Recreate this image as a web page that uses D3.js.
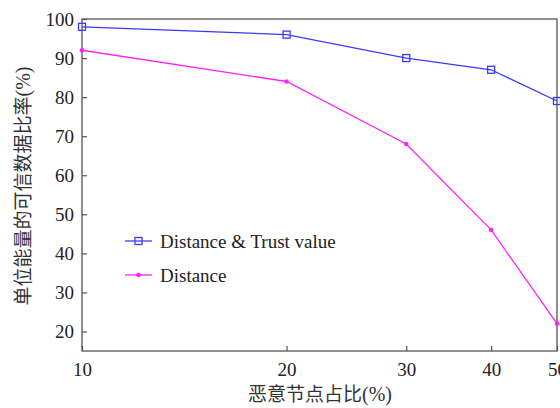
<!DOCTYPE html>
<html>
<head>
<meta charset="utf-8">
<script src="https://cdn.jsdelivr.net/npm/d3@7"></script>
<style>
  html, body { margin: 0; padding: 0; background: #fff; }
  svg { display: block; }
</style>
</head>
<body>
<svg id="chart" width="560" height="408"></svg>
<script>
// Malicious node ratio (%) on the x axis
const ratios = [10, 20, 30, 40, 50];
// Credible-data ratio per unit energy (%)
const trustValues = [98, 96, 90, 87, 79];
const distanceValues = [92, 84, 68, 46, 22];
const xTicks = [10, 20, 30, 40, 50];
const yTicks = [20, 30, 40, 50, 60, 70, 80, 90, 100];

const seriesList = [
  { name: "Distance & Trust value", values: trustValues, color: "#3a3aff", marker: "square" },
  { name: "Distance", values: distanceValues, color: "#ff22ff", marker: "dot" }
];

const svg = d3.select("#chart");
const margin = { left: 82, right: 3, top: 19, bottom: 57 };
const W = 560, H = 408;
const x = d3.scaleLog().domain([10, 50]).range([margin.left, W - margin.right]);
const y = d3.scaleLinear().domain([15, 100]).range([H - margin.bottom, margin.top]);

const axisColor = "#555";
const serif = "'Liberation Serif', 'Times New Roman', serif";
const cjk = "'Noto Sans CJK SC', sans-serif";

// Frame
svg.append("rect")
  .attr("x", margin.left).attr("y", margin.top)
  .attr("width", W - margin.right - margin.left)
  .attr("height", H - margin.bottom - margin.top)
  .attr("fill", "none").attr("stroke", axisColor).attr("stroke-width", 1.3);

// Bottom axis with inward ticks
const xAxis = svg.append("g")
  .attr("transform", `translate(0,${H - margin.bottom})`)
  .call(d3.axisBottom(x).tickValues(xTicks).tickFormat(d3.format("d")).tickSize(-5).tickPadding(12));
xAxis.select(".domain").remove();
xAxis.selectAll(".tick line").attr("stroke", axisColor).attr("stroke-width", 1.2);
xAxis.selectAll(".tick text").attr("font-size", 19).attr("fill", "#222").attr("font-family", serif);

// Left axis with inward ticks
const yAxis = svg.append("g")
  .attr("transform", `translate(${margin.left},0)`)
  .call(d3.axisLeft(y).tickValues(yTicks).tickSize(-5).tickPadding(8));
yAxis.select(".domain").remove();
yAxis.selectAll(".tick line").attr("stroke", axisColor).attr("stroke-width", 1.2);
yAxis.selectAll(".tick text").attr("font-size", 19).attr("fill", "#222").attr("font-family", serif);

// Axis titles: CJK part plus a serif "(%)"
function axisTitle(sel, cjkText) {
  sel.append("tspan").attr("font-family", cjk).text(cjkText);
  sel.append("tspan").attr("font-family", serif).attr("font-size", 20).text("(%)");
}

const xTitle = svg.append("text")
  .attr("x", 320).attr("y", 401)
  .attr("text-anchor", "middle")
  .attr("font-size", 19).attr("fill", "#333");
axisTitle(xTitle, "恶意节点占比");

const yTitle = svg.append("text")
  .attr("transform", "translate(30,186) rotate(-90)")
  .attr("text-anchor", "middle")
  .attr("font-size", 19).attr("fill", "#333");
axisTitle(yTitle, "单位能量的可信数据比率");

// Lines and markers
const line = d3.line().x((d, i) => x(ratios[i])).y(d => y(d));

function drawMarker(g, type, color, cx, cy) {
  if (type === "square") {
    g.append("rect")
      .attr("x", cx - 3.5).attr("y", cy - 3.5)
      .attr("width", 7).attr("height", 7)
      .attr("fill", "none").attr("stroke", color).attr("stroke-width", 1.3);
  } else {
    g.append("circle")
      .attr("cx", cx).attr("cy", cy).attr("r", 2.3)
      .attr("fill", color);
  }
}

seriesList.forEach(s => {
  svg.append("path")
    .datum(s.values)
    .attr("d", line)
    .attr("fill", "none")
    .attr("stroke", s.color)
    .attr("stroke-width", 1.3);
  const g = svg.append("g");
  s.values.forEach((v, i) => drawMarker(g, s.marker, s.color, x(ratios[i]), y(v)));
});

// Legend
const legend = svg.append("g");
seriesList.forEach((s, i) => {
  const ly = 241 + i * 34;
  legend.append("line")
    .attr("x1", 125).attr("x2", 152).attr("y1", ly).attr("y2", ly)
    .attr("stroke", s.color).attr("stroke-width", 1.3);
  drawMarker(legend, s.marker, s.color, 138.5, ly);
  legend.append("text")
    .attr("x", 160).attr("y", ly + 6.5)
    .attr("font-family", serif).attr("font-size", 19).attr("fill", "#222")
    .text(s.name);
});
</script>
</body>
</html>
